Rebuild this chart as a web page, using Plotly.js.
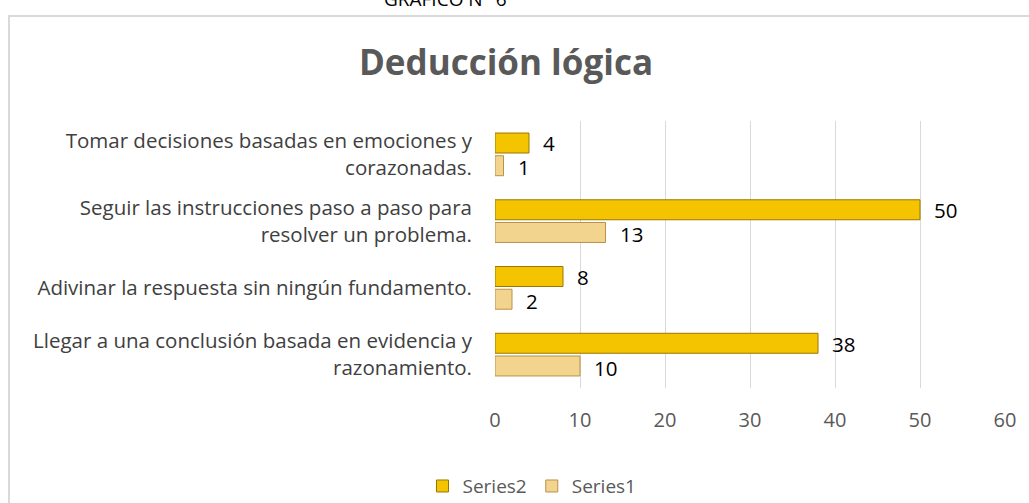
<!DOCTYPE html>
<html>
<head>
<meta charset="utf-8">
<script src="https://cdn.plot.ly/plotly-3.0.1.min.js"></script>
<style>
html,body{margin:0;padding:0;background:#fff;}
#chart{width:1029px;height:503px;}
</style>
</head>
<body>
<div id="chart"></div>
<script>
// Categories listed bottom-to-top
const categories = [
  "Llegar a una conclusión basada en evidencia y<br>razonamiento.",
  "Adivinar la respuesta sin ningún fundamento.",
  "Seguir las instrucciones paso a paso para<br>resolver un problema.",
  "Tomar decisiones basadas en emociones y<br>corazonadas."
];
const series1 = [10, 2, 13, 1];
const series2 = [38, 8, 50, 4];
const xTicks = [0, 10, 20, 30, 40, 50, 60];

const FONT = "Open Sans, Noto Sans, Liberation Sans, sans-serif";

const traces = [
  {
    type: "bar", orientation: "h", name: "Series1",
    y: categories, x: series1,
    marker: {color: "#F3D48E", line: {color: "#B8914A", width: 1}},
    hoverinfo: "none"
  },
  {
    type: "bar", orientation: "h", name: "Series2",
    y: categories, x: series2,
    marker: {color: "#F5C400", line: {color: "#9A7600", width: 1}},
    hoverinfo: "none"
  }
];

const annotations = [];
categories.forEach((c, i) => {
  annotations.push({
    x: series2[i], y: c, xref: "x", yref: "y", text: String(series2[i]),
    showarrow: false, xanchor: "left", xshift: 12, yshift: 11,
    font: {family: FONT, size: 20.5, color: "#000"}
  });
  annotations.push({
    x: series1[i], y: c, xref: "x", yref: "y", text: String(series1[i]),
    showarrow: false, xanchor: "left", xshift: 12, yshift: -13,
    font: {family: FONT, size: 20.5, color: "#000"}
  });
});
annotations.push({
  text: "GRÁFICO N° 6", xref: "paper", yref: "paper",
  x: (445 - 495) / 510, y: (388.5 - 13) / 268, xanchor: "center", yanchor: "bottom",
  showarrow: false, font: {family: FONT, size: 19, color: "#000"}
});

const layout = {
  width: 1029, height: 503,
  margin: {l: 495, r: 24, t: 120.5, b: 114.5, autoexpand: false},
  paper_bgcolor: "#fff", plot_bgcolor: "#fff",
  title: {
    text: "<b>Deducción lógica</b>",
    font: {family: FONT, size: 35, color: "#595959"},
    x: 506 / 1029, xanchor: "center", xref: "container",
    y: 1 - 63 / 503, yanchor: "middle", yref: "container"
  },
  barmode: "group", bargap: 0.32, bargroupgap: 0.12,
  xaxis: {
    range: [0, 60], tickvals: xTicks, ticktext: xTicks.map(String),
    showgrid: true, gridcolor: "#d9d9d9", gridwidth: 1,
    zeroline: false, showline: false, ticks: "",
    tickfont: {family: FONT, size: 20, color: "#595959"},
    ticklabelstandoff: 18, fixedrange: true
  },
  yaxis: {
    type: "category",
    showgrid: false, zeroline: false, showline: false, ticks: "",
    tickfont: {family: FONT, size: 20.5, color: "#404040"},
    ticklabelstandoff: 22, fixedrange: true
  },
  showlegend: true,
  legend: {
    orientation: "h", traceorder: "reversed",
    x: (532 - 495) / 510, xanchor: "center",
    y: (388.5 - 487) / 268, yanchor: "middle",
    font: {family: FONT, size: 19, color: "#595959"},
    itemwidth: 30
  },
  annotations: annotations,
  shapes: [{
    type: "rect", xref: "paper", yref: "paper",
    x0: (9 - 495) / 510, x1: (1040 - 495) / 510,
    y0: (388.5 - 520) / 268, y1: (388.5 - 15) / 268,
    line: {color: "#d9d9d9", width: 2}, fillcolor: "rgba(0,0,0,0)", layer: "below"
  }]
};

Plotly.newPlot("chart", traces, layout, {displayModeBar: false, staticPlot: true});
</script>
</body>
</html>
